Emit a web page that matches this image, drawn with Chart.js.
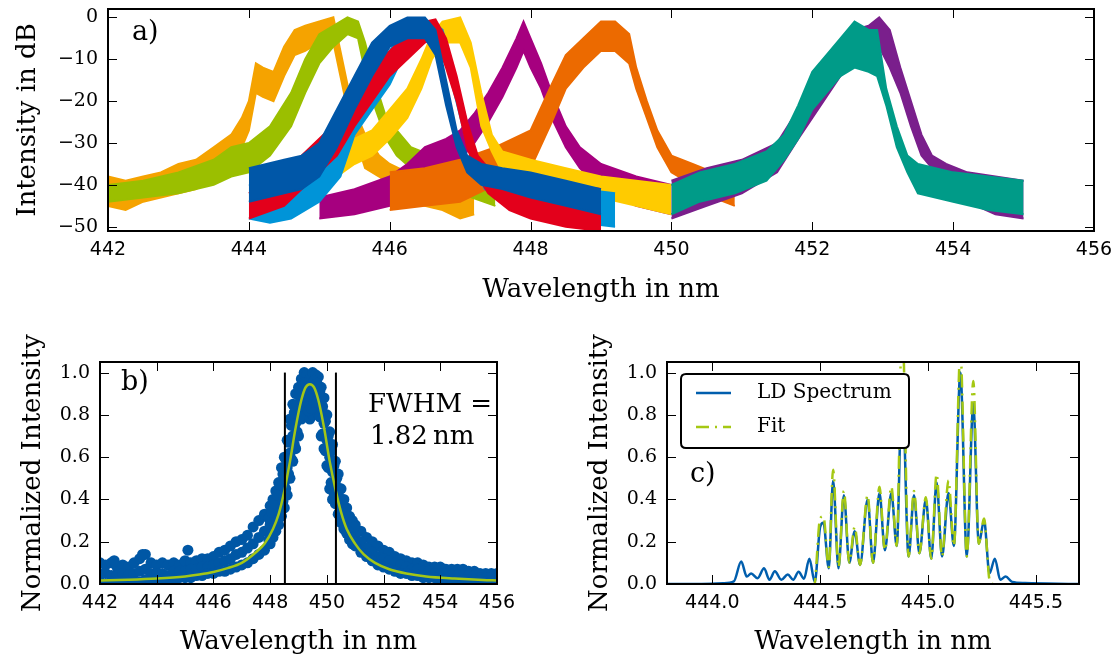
<!DOCTYPE html>
<html><head><meta charset="utf-8">
<script src="https://cdn.jsdelivr.net/npm/chart.js@4/dist/chart.umd.min.js"></script>
<style>
html,body{margin:0;padding:0;background:#fff;width:1118px;height:662px;overflow:hidden}
canvas{position:absolute}
</style></head><body>
<canvas id="ca" width="1118" height="310" style="left:0;top:0;width:1118px;height:310px"></canvas>
<canvas id="cb" width="559" height="352" style="left:0;top:310px;width:559px;height:352px"></canvas>
<canvas id="cc" width="559" height="352" style="left:559px;top:310px;width:559px;height:352px"></canvas>
<script>
// ---------------- Panel a: spectra (upper / lower envelope of the mode ripple, dB) ----------------
const aXTicks = [442, 444, 446, 448, 450, 452, 454, 456];
const aYTicks = [0, -10, -20, -30, -40, -50];

const orangeLam = [442.0,442.25,442.5,442.75,443.0,443.25,443.5,443.75,443.9,444.0,444.1,444.2,444.35,444.5,444.65,444.8,445.0,445.2,445.3,445.4,445.5,445.65,445.85,446.0,446.25,446.5,446.75,447.0,447.2];
const orangeHi  = [-38,-39,-38,-37,-35,-34,-31,-28,-24,-20,-11,-12,-13,-7,-3,-2,-1,0,-8,-16,-22,-28,-33,-35,-37,-38,-39,-39,-40];
const orangeLo  = [-45,-46,-44,-43,-42,-41,-38,-35,-31,-27,-18,-19,-20,-14,-9,-8,-6,-6,-14,-22,-28,-36,-38,-40,-43,-45,-46,-48,-47];

const greenLam = [442.0,442.5,443.0,443.5,443.75,444.0,444.3,444.6,444.8,445.0,445.2,445.4,445.55,445.65,445.8,445.95,446.1,446.3,446.6,447.0,447.5];
const greenHi  = [-40,-39,-37,-34,-31,-30,-26,-18,-10,-4,-2,0,-1,-6,-16,-24,-27,-31,-33,-37,-39];
const greenLo  = [-44,-43,-42,-40,-38,-37,-33,-26,-18,-11,-7,-4,-5,-13,-22,-29,-33,-36,-37,-42,-45];

const magentaLam = [445.0,445.5,446.0,446.25,446.5,446.8,447.0,447.2,447.4,447.6,447.8,447.9,448.0,448.15,448.3,448.5,448.7,449.0,449.5,450.0];
const magentaHi  = [-43,-41,-38,-35,-31,-29,-27,-23,-18,-12,-5,-1,-5,-11,-18,-26,-31,-35,-38,-40];
const magentaLo  = [-48,-47,-45,-42,-38,-36,-34,-30,-25,-19,-12,-8,-12,-17,-24,-31,-36,-41,-45,-47];

const dorangeLam = [446.0,446.5,447.0,447.5,448.0,448.3,448.5,448.75,449.0,449.2,449.4,449.5,449.65,449.8,450.0,450.3,450.6,450.9];
const dorangeHi  = [-37,-36,-34,-31,-27,-16,-9,-5,-1,-1,-4,-12,-20,-27,-33,-35,-37,-39];
const dorangeLo  = [-46,-45,-44,-40,-36,-25,-17,-12,-8,-8,-11,-17,-24,-31,-37,-40,-43,-45];

const yellowLam = [445.0,445.25,445.5,445.75,446.0,446.25,446.45,446.6,446.75,447.0,447.15,447.3,447.45,447.6,448.0,448.5,449.0,449.5,450.0];
const yellowHi  = [-35,-32,-29,-27,-22,-17,-10,-4,-1,0,-6,-18,-28,-32,-34,-36,-38,-39,-40];
const yellowLo  = [-41,-38,-35,-33,-29,-24,-17,-10,-6,-6,-12,-26,-32,-37,-39,-41,-43,-45,-47];

const lblueLam = [444.0,444.3,444.6,445.0,445.3,445.5,445.75,446.0,446.2,446.4,446.6,446.75,446.9,447.05,447.2,447.35,447.7,448.2,448.7,449.2];
const lblueHi  = [-40,-40,-39,-36,-30,-20,-15,-8,-3,-1,-1,-3,-12,-22,-32,-37,-39,-40,-41,-42];
const lblueLo  = [-48,-49,-48,-44,-38,-28,-22,-16,-9,-5,-4,-8,-17,-27,-36,-41,-45,-47,-49,-50];

const redLam = [444.0,444.5,445.0,445.25,445.5,445.75,446.0,446.25,446.5,446.65,446.8,446.95,447.1,447.25,447.4,447.7,448.0,448.5,449.0];
const redHi  = [-42,-37,-29,-25,-19,-12,-8,-4,-1,-0.5,-5,-14,-25,-33,-36,-37,-38,-40,-41];
const redLo  = [-48,-45,-37,-33,-26,-20,-14,-10,-6,-5,-12,-20,-31,-38,-42,-46,-48,-50,-51];

const dblueLam = [444.0,444.25,444.5,444.75,445.0,445.25,445.5,445.75,446.0,446.25,446.5,446.65,446.8,446.95,447.1,447.3,447.6,448.0,448.5,449.0];
const dblueHi  = [-36,-35,-34,-33,-30,-22,-14,-6,-2,0,0,-3,-15,-27,-33,-35,-36,-37,-39,-41];
const dblueLo  = [-44,-43,-42,-41,-38,-31,-22,-14,-7,-5,-5,-9,-21,-31,-37,-40,-41,-43,-45,-47];

const purpleLam = [450.0,450.5,451.0,451.5,451.8,452.0,452.2,452.4,452.6,452.8,452.95,453.1,453.25,453.4,453.55,453.7,453.9,454.2,454.6,455.0];
const purpleHi  = [-39,-36,-34,-30,-22,-17,-11,-6,-3,-2,0,-3,-12,-20,-28,-33,-35,-37,-38,-39];
const purpleLo  = [-48,-45,-42,-37,-29,-24,-19,-14,-11,-10,-7,-12,-18,-26,-33,-36,-40,-44,-47,-48];

const tealLam = [450.0,450.4,450.9,451.35,451.6,451.8,452.0,452.2,452.4,452.6,452.8,452.92,453.05,453.2,453.35,453.5,454.0,454.5,455.0];
const tealHi  = [-40,-37,-35,-32,-28,-21,-13,-9,-5,-1,-3,-3,-17,-26,-33,-35,-37,-38,-39];
const tealLo  = [-47,-44,-42,-39,-34,-29,-22,-18,-14,-12,-13,-14,-21,-31,-37,-42,-44,-46,-47];

// ---------------- Panel b: measured points + Lorentz fit ----------------
const bXTicks = [442, 444, 446, 448, 450, 452, 454, 456];
const bYTicks = [0, 0.2, 0.4, 0.6, 0.8, 1.0];
const bLam = [442.0,442.2,442.4,442.6,442.8,443.0,443.2,443.4,443.6,443.8,
  444.0,444.2,444.4,444.6,444.8,445.0,445.2,445.4,445.6,445.8,
  446.0,446.2,446.4,446.6,446.8,447.0,447.2,447.4,447.6,447.8,
  448.0,448.1,448.2,448.3,448.4,448.5,448.6,448.7,448.8,448.9,
  449.0,449.1,449.2,449.3,449.4,449.5,449.6,449.7,449.8,449.9,
  450.0,450.1,450.2,450.3,450.4,450.5,450.6,450.7,450.8,450.9,
  451.0,451.2,451.4,451.6,451.8,452.0,452.2,452.4,452.6,452.8,
  453.0,453.2,453.4,453.6,453.8,454.0,454.2,454.4,454.6,454.8,
  455.0,455.2,455.4,455.6,455.8,456.0];
const bHi = [0.10,0.09,0.10,0.08,0.09,0.08,0.10,0.12,0.14,0.10,
  0.09,0.10,0.09,0.10,0.09,0.11,0.10,0.11,0.12,0.12,
  0.13,0.15,0.16,0.18,0.20,0.21,0.23,0.27,0.30,0.33,
  0.37,0.40,0.44,0.48,0.55,0.60,0.68,0.78,0.85,0.90,
  0.93,0.97,1.00,0.99,0.97,1.00,0.99,0.98,0.93,0.88,
  0.80,0.72,0.66,0.58,0.52,0.45,0.40,0.36,0.32,0.30,
  0.28,0.25,0.22,0.20,0.18,0.16,0.15,0.13,0.12,0.11,
  0.10,0.10,0.09,0.08,0.08,0.08,0.07,0.07,0.07,0.07,
  0.06,0.06,0.05,0.05,0.05,0.05];
const bMid = [0.05,0.05,0.04,0.04,0.05,0.04,0.05,0.06,0.07,0.05,
  0.05,0.05,0.04,0.06,0.06,0.06,0.07,0.07,0.08,0.08,
  0.09,0.10,0.11,0.12,0.14,0.15,0.17,0.19,0.22,0.25,
  0.28,0.31,0.34,0.38,0.43,0.48,0.55,0.62,0.70,0.76,
  0.82,0.88,0.92,0.88,0.86,0.90,0.92,0.90,0.82,0.76,
  0.68,0.60,0.53,0.47,0.42,0.36,0.32,0.30,0.27,0.25,
  0.23,0.20,0.17,0.15,0.13,0.12,0.11,0.10,0.09,0.08,
  0.07,0.07,0.06,0.06,0.05,0.05,0.05,0.04,0.04,0.04,
  0.04,0.04,0.03,0.03,0.03,0.03];
const bLo = [0.01,0.00,0.01,0.00,0.01,0.00,0.01,0.01,0.02,0.00,
  0.00,0.01,0.01,0.02,0.03,0.03,0.03,0.04,0.04,0.05,
  0.05,0.06,0.06,0.07,0.08,0.09,0.10,0.12,0.14,0.16,
  0.19,0.22,0.25,0.28,0.32,0.36,0.42,0.50,0.58,0.64,
  0.70,0.78,0.82,0.80,0.78,0.80,0.84,0.80,0.70,0.64,
  0.56,0.45,0.40,0.38,0.33,0.29,0.26,0.24,0.21,0.19,
  0.18,0.15,0.13,0.11,0.09,0.08,0.07,0.06,0.05,0.05,
  0.04,0.04,0.03,0.03,0.03,0.02,0.02,0.02,0.02,0.02,
  0.02,0.02,0.02,0.01,0.01,0.01];
// extra points between the rows around the peak
const bPeakLam = [447.95,448.05,448.15,448.25,448.35,448.45,448.55,448.65,448.75,448.85,448.95,449.05,449.15,449.25,449.35,449.45,449.55,449.65,449.75,449.85,449.95,450.05,450.15,450.25,450.35,450.45,450.55,450.65,450.75,450.85,450.95];
const bPeakUp  = [0.31,0.34,0.38,0.42,0.47,0.52,0.59,0.67,0.75,0.81,0.85,0.90,0.95,0.95,0.92,0.94,0.96,0.95,0.91,0.84,0.77,0.70,0.63,0.56,0.50,0.45,0.39,0.35,0.32,0.29,0.27];
const bPeakDn  = [0.21,0.24,0.27,0.30,0.34,0.39,0.45,0.52,0.59,0.66,0.72,0.79,0.85,0.84,0.82,0.83,0.86,0.86,0.79,0.71,0.63,0.55,0.48,0.43,0.39,0.34,0.30,0.27,0.25,0.22,0.20];
const bOutLam = [442.5, 443.5, 445.1];
const bOutVal = [0.11, 0.14, 0.16];
const bFitLam = [442.0,443.0,444.0,445.0,445.5,446.0,446.5,447.0,447.5,447.8,448.1,448.3,448.5,448.7,448.9,449.1,449.25,449.4,449.55,449.7,449.9,450.1,450.3,450.5,450.7,451.0,451.3,451.7,452.2,452.8,453.5,454.5,455.5,456.0];
const bFit    = [0.016,0.020,0.026,0.036,0.045,0.057,0.075,0.10,0.15,0.19,0.26,0.33,0.44,0.58,0.74,0.87,0.93,0.945,0.93,0.87,0.74,0.58,0.45,0.34,0.26,0.19,0.14,0.10,0.07,0.05,0.036,0.026,0.019,0.017];
const bFwhmLines = [448.52, 450.32];

// ---------------- Panel c: LD spectrum + fit ----------------
const cXTicks = [444.0, 444.5, 445.0, 445.5];
const cYTicks = [0, 0.2, 0.4, 0.6, 0.8, 1.0];
const cLam = [443.79,443.95,444.05,444.10,444.134,444.16,444.18,444.21,444.24,444.265,444.29,444.32,444.35,444.375,444.40,444.425,444.45,444.475,444.50,444.515,444.54,444.56,444.585,444.61,444.635,444.66,444.685,444.72,444.745,444.775,444.80,444.83,444.855,444.88,444.91,444.935,444.96,444.99,445.015,445.04,445.065,445.095,445.12,445.15,445.18,445.21,445.235,445.26,445.285,445.31,445.335,445.36,445.39,445.45,445.55,445.70];
const cLD  = [0,0,0.003,0.012,0.106,0.035,0.05,0.027,0.074,0.02,0.06,0.02,0.045,0.02,0.058,0.025,0.12,0.01,0.27,0.29,0.074,0.49,0.074,0.42,0.10,0.25,0.09,0.40,0.10,0.43,0.16,0.43,0.18,0.95,0.13,0.42,0.145,0.40,0.12,0.48,0.13,0.43,0.18,1.0,0.13,0.855,0.19,0.30,0.05,0.12,0.02,0.035,0.01,0.005,0.002,0];
const cFitLam = [444.465,444.475,444.50,444.515,444.54,444.56,444.585,444.61,444.635,444.66,444.685,444.72,444.745,444.775,444.80,444.83,444.855,444.88,444.91,444.935,444.96,444.99,445.015,445.04,445.065,445.095,445.12,445.15,445.18,445.21,445.235,445.26,445.285,445.30];
const cFit    = [-0.03,0.0,0.31,0.32,0.08,0.54,0.08,0.44,0.10,0.27,0.09,0.42,0.10,0.46,0.16,0.46,0.18,1.25,0.13,0.44,0.145,0.41,0.12,0.52,0.13,0.49,0.18,1.1,0.13,0.96,0.19,0.31,0.02,0.0];

// ---------------- helpers ----------------
const SERIF = 'DejaVu Serif', SANS = 'DejaVu Sans';
const pts = (xs, ys) => xs.map((x, i) => ({x, y: ys[i]}));
const minus = v => (v < 0 ? '\u2212' + Math.abs(v) : String(v));

const frame = {
  id: 'frame',
  afterDatasetsDraw(chart) {
    const {ctx, chartArea: a} = chart;
    const xs = chart.scales.x, ys = chart.scales.y;
    ctx.save();
    ctx.strokeStyle = '#000';
    ctx.lineWidth = 1;
    ctx.beginPath();
    const L = 9;
    xs.ticks.forEach(t => {
      const p = Math.round(xs.getPixelForValue(t.value)) + 0.5;
      ctx.moveTo(p, a.bottom); ctx.lineTo(p, a.bottom - L);
      ctx.moveTo(p, a.top); ctx.lineTo(p, a.top + L);
    });
    ys.ticks.forEach(t => {
      const p = Math.round(ys.getPixelForValue(t.value)) + 0.5;
      ctx.moveTo(a.left, p); ctx.lineTo(a.left + L, p);
      ctx.moveTo(a.right, p); ctx.lineTo(a.right - L, p);
    });
    ctx.stroke();
    ctx.lineWidth = 2;
    ctx.strokeRect(a.left, a.top, a.right - a.left, a.bottom - a.top);
    ctx.restore();
  },
  afterDraw(chart, args, opts) {
    const ctx = chart.ctx;
    const lg = opts.legend;
    if (lg) {
      ctx.save();
      const {x, y, w, h, r} = lg;
      ctx.beginPath();
      ctx.moveTo(x + r, y); ctx.lineTo(x + w - r, y); ctx.quadraticCurveTo(x + w, y, x + w, y + r);
      ctx.lineTo(x + w, y + h - r); ctx.quadraticCurveTo(x + w, y + h, x + w - r, y + h);
      ctx.lineTo(x + r, y + h); ctx.quadraticCurveTo(x, y + h, x, y + h - r);
      ctx.lineTo(x, y + r); ctx.quadraticCurveTo(x, y, x + r, y);
      ctx.closePath();
      ctx.fillStyle = '#fff'; ctx.fill();
      ctx.lineWidth = 2; ctx.strokeStyle = '#000'; ctx.stroke();
      lg.items.forEach(it => {
        ctx.beginPath();
        ctx.setLineDash(it.dash || []);
        ctx.strokeStyle = it.color; ctx.lineWidth = 2.5;
        ctx.moveTo(lg.hx0, it.y); ctx.lineTo(lg.hx1, it.y); ctx.stroke();
        ctx.setLineDash([]);
        ctx.font = lg.font; ctx.fillStyle = '#000'; ctx.textBaseline = 'middle'; ctx.textAlign = 'left';
        ctx.fillText(it.label, lg.tx, it.y);
      });
      ctx.restore();
    }
    (opts.texts || []).forEach(t => {
      ctx.save();
      ctx.font = t.font; ctx.fillStyle = '#000'; ctx.textBaseline = 'middle'; ctx.textAlign = 'left';
      ctx.fillText(t.text, t.x, t.y);
      ctx.restore();
    });
  }
};

function xScale(min, max, ticks, fmt, h, titlePad) {
  return {
    type: 'linear', position: 'bottom', min, max,
    afterBuildTicks: s => { s.ticks = ticks.map(v => ({value: v})); },
    afterFit: s => { s.height = h; s.paddingLeft = 0; s.paddingRight = 0; },
    grid: {display: false, drawTicks: false}, border: {display: false},
    ticks: {color: '#000', font: {family: SANS, size: 19}, padding: 8, maxRotation: 0, autoSkip: false, callback: fmt},
    title: {display: true, text: 'Wavelength in nm', color: '#000', font: {family: SERIF, size: 26, lineHeight: 1}, padding: {top: 0, bottom: titlePad}}
  };
}
function yScale(min, max, ticks, fmt, w, title, titlePad) {
  return {
    type: 'linear', position: 'left', min, max,
    afterBuildTicks: s => { s.ticks = ticks.map(v => ({value: v})); },
    afterFit: s => { s.width = w; s.paddingTop = 0; s.paddingBottom = 0; },
    grid: {display: false, drawTicks: false}, border: {display: false},
    ticks: {color: '#000', font: {family: SERIF, size: 19}, padding: 10, autoSkip: false, callback: fmt},
    title: {display: true, text: title, color: '#000', font: {family: SERIF, size: 26, lineHeight: 1}, padding: {top: titlePad, bottom: 0}}
  };
}
const base = {
  responsive: false, animation: false, devicePixelRatio: 1, events: [],
  elements: {point: {radius: 0}, line: {tension: 0}}
};

// ---------------- chart a ----------------
const spectra = [   // bottom -> top
  {lam: orangeLam, hi: orangeHi, lo: orangeLo, color: '#F5A300'},
  {lam: greenLam, hi: greenHi, lo: greenLo, color: '#9BBF00'},
  {lam: magentaLam, hi: magentaHi, lo: magentaLo, color: '#A6007F'},
  {lam: dorangeLam, hi: dorangeHi, lo: dorangeLo, color: '#EC6A00'},
  {lam: yellowLam, hi: yellowHi, lo: yellowLo, color: '#FFCB00'},
  {lam: lblueLam, hi: lblueHi, lo: lblueLo, color: '#0094D8'},
  {lam: redLam, hi: redHi, lo: redLo, color: '#E3001B'},
  {lam: dblueLam, hi: dblueHi, lo: dblueLo, color: '#0057A8'},
  {lam: purpleLam, hi: purpleHi, lo: purpleLo, color: '#7A1F8C'},
  {lam: tealLam, hi: tealHi, lo: tealLo, color: '#009B88'}
];
const aSets = [];
spectra.forEach((s, k) => {
  const order = spectra.length - k;
  aSets.push({data: pts(s.lam, s.hi), borderColor: s.color, backgroundColor: s.color, borderWidth: 2, fill: false, order});
  aSets.push({data: pts(s.lam, s.lo), borderColor: s.color, backgroundColor: s.color, borderWidth: 2, fill: '-1', order});
});
new Chart(document.getElementById('ca'), {
  type: 'line',
  data: {datasets: aSets},
  options: Object.assign({}, base, {
    layout: {padding: {top: 9, right: 24, left: 0, bottom: 0}},
    plugins: {legend: {display: false}, tooltip: {enabled: false},
      frame: {texts: [{text: 'a)', x: 132, y: 33, font: '27px "DejaVu Serif"'}]}},
    scales: {
      x: xScale(442, 456, aXTicks, v => String(v), 79, 7),
      y: yScale(-51, 2, aYTicks, minus, 108, 'Intensity in dB', 15)
    }
  }),
  plugins: [frame]
});

// ---------------- chart b ----------------
const bPoints = pts(bLam, bHi).concat(pts(bLam, bMid), pts(bLam, bLo), pts(bPeakLam, bPeakUp), pts(bPeakLam, bPeakDn), pts(bOutLam, bOutVal));
new Chart(document.getElementById('cb'), {
  type: 'line',
  data: {datasets: [
    {data: pts([bFwhmLines[0], bFwhmLines[0]], [0, 1.0]), borderColor: '#000', borderWidth: 2, order: 1},
    {data: pts([bFwhmLines[1], bFwhmLines[1]], [0, 1.0]), borderColor: '#000', borderWidth: 2, order: 1},
    {data: pts(bFitLam, bFit), borderColor: '#A2C617', borderWidth: 2.5, cubicInterpolationMode: 'monotone', order: 2},
    {data: bPoints, showLine: false, pointRadius: 5.5, pointBorderWidth: 0, pointBackgroundColor: '#0057A5', backgroundColor: '#0057A5', borderColor: '#0057A5', order: 3}
  ]},
  options: Object.assign({}, base, {
    layout: {padding: {top: 52, right: 62, left: 0, bottom: 0}},
    plugins: {legend: {display: false}, tooltip: {enabled: false},
      frame: {texts: [
        {text: 'b)', x: 121, y: 73, font: '27px "DejaVu Serif"'},
        {text: 'FWHM =', x: 368, y: 95, font: '26px "DejaVu Serif"'},
        {text: '1.82\u2009nm', x: 370, y: 127, font: '26px "DejaVu Serif"'}
      ]}},
    scales: {
      x: xScale(442, 456, bXTicks, v => String(v), 78, 7),
      y: yScale(0, 1.05, bYTicks, v => v.toFixed(1), 100, 'Normalized Intensity', 20)
    }
  }),
  plugins: [frame]
});

// ---------------- chart c ----------------
new Chart(document.getElementById('cc'), {
  type: 'line',
  data: {datasets: [
    {label: 'Fit', data: pts(cFitLam, cFit), borderColor: '#A5C813', borderWidth: 2.5, borderDash: [13, 6, 2, 6], cubicInterpolationMode: 'monotone', order: 1},
    {label: 'LD Spectrum', data: pts(cLam, cLD), borderColor: '#005EAD', borderWidth: 2.5, cubicInterpolationMode: 'monotone', order: 2}
  ]},
  options: Object.assign({}, base, {
    layout: {padding: {top: 52, right: 39, left: 0, bottom: 0}},
    plugins: {legend: {display: false}, tooltip: {enabled: false},
      frame: {
        texts: [{text: 'c)', x: 131, y: 165, font: '27px "DejaVu Serif"'}],
        legend: {x: 122, y: 64, w: 228, h: 74, r: 5, hx0: 137, hx1: 172, tx: 198, font: '20px "DejaVu Serif"',
          items: [{label: 'LD Spectrum', color: '#005EAD', y: 83}, {label: 'Fit', color: '#A5C813', y: 117, dash: [13, 6, 2, 6]}]}
      }},
    scales: {
      x: xScale(443.79, 445.70, cXTicks, v => v.toFixed(1), 78, 7),
      y: yScale(0, 1.05, cYTicks, v => v.toFixed(1), 108, 'Normalized Intensity', 28)
    }
  }),
  plugins: [frame]
});
</script>
</body></html>
